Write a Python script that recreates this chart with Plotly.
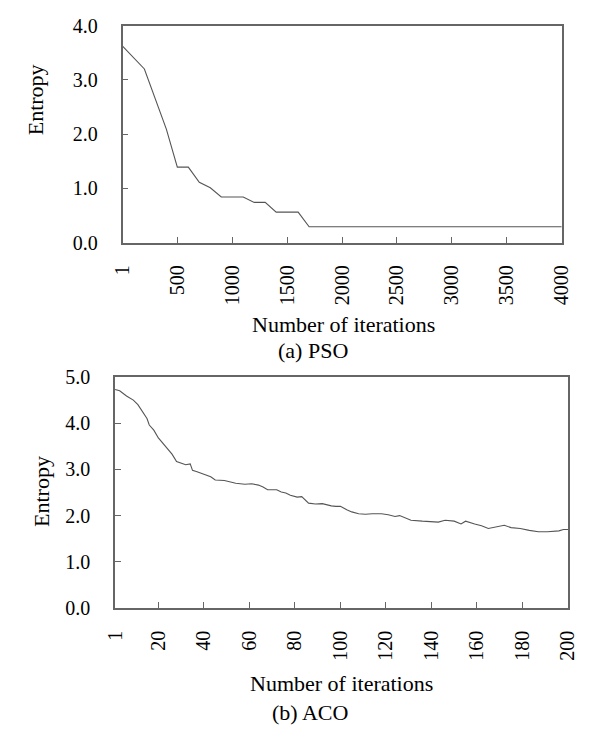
import plotly.graph_objects as go

# ---- data ----
pso_iter = [1, 200, 400, 500, 600, 700, 800, 900, 1100, 1200, 1300, 1400, 1600, 1700, 4000]
pso_entropy = [3.62, 3.20, 2.09, 1.39, 1.39, 1.11, 1.01, 0.84, 0.84, 0.74, 0.74, 0.56, 0.56, 0.29, 0.29]

aco_iter = [1, 3, 6, 9, 11, 13, 15, 16, 18, 20, 22, 24, 26, 28, 30, 32, 34, 35, 37, 40,
            43, 45, 49, 54, 58, 61, 64, 66, 68, 72, 74, 76, 78, 81, 83, 86, 89, 92, 94, 96,
            98, 100, 103, 105, 108, 111, 114, 118, 121, 124, 126, 131, 136, 139, 143, 146,
            150, 153, 155, 159, 162, 165, 168, 172, 175, 179, 183, 187, 191, 196, 198, 200]
aco_entropy = [4.73, 4.70, 4.59, 4.50, 4.40, 4.26, 4.10, 3.96, 3.85, 3.68, 3.56, 3.44, 3.33, 3.17,
               3.14, 3.10, 3.12, 2.98, 2.95, 2.89, 2.84, 2.77, 2.76, 2.70, 2.68, 2.69, 2.66, 2.62,
               2.56, 2.56, 2.51, 2.49, 2.44, 2.40, 2.41, 2.27, 2.25, 2.26, 2.23, 2.21, 2.20, 2.20,
               2.12, 2.08, 2.04, 2.03, 2.04, 2.04, 2.02, 1.98, 2.00, 1.90, 1.88, 1.87, 1.86, 1.90,
               1.88, 1.82, 1.88, 1.82, 1.78, 1.72, 1.75, 1.79, 1.74, 1.72, 1.68, 1.65, 1.65, 1.67,
               1.70, 1.70]

pso_xticks = [1, 500, 1000, 1500, 2000, 2500, 3000, 3500, 4000]
aco_xticks = [1, 20, 40, 60, 80, 100, 120, 140, 160, 180, 200]
pso_yticks = [0.0, 1.0, 2.0, 3.0, 4.0]
aco_yticks = [0.0, 1.0, 2.0, 3.0, 4.0, 5.0]

x_title = "Number of iterations"
y_title = "Entropy"
cap_a = "(a) PSO"
cap_b = "(b) ACO"

W, H = 591, 733
FONT = "Liberation Serif"
FS_TICK = 20
FS_TITLE = 22
AXC = "#666666"
LINEC = "#555555"

fig = go.Figure()
fig.add_trace(go.Scatter(x=pso_iter, y=pso_entropy, mode="lines",
                         line=dict(color=LINEC, width=1.1), xaxis="x", yaxis="y",
                         showlegend=False, hoverinfo="skip"))
fig.add_trace(go.Scatter(x=aco_iter, y=aco_entropy, mode="lines",
                         line=dict(color=LINEC, width=1.1), xaxis="x2", yaxis="y2",
                         showlegend=False, hoverinfo="skip"))

def px_x(p):
    return p / W

def px_y(p):
    return 1 - p / H

common_x = dict(showline=True, linecolor=AXC, linewidth=1.5, mirror=True, ticks="inside",
                ticklen=6, tickcolor=AXC, tickwidth=1, showgrid=False, zeroline=False,
                tickangle=-90, tickfont=dict(family=FONT, size=FS_TICK, color="black"),
                ticklabelstandoff=13)
common_y = dict(showline=True, linecolor=AXC, linewidth=1.5, mirror=True, ticks="inside",
                ticklen=6, tickcolor=AXC, tickwidth=1, showgrid=False, zeroline=False,
                tickformat=".1f", tickfont=dict(family=FONT, size=FS_TICK, color="black"),
                ticklabelstandoff=19)

fig.update_layout(
    width=W, height=H,
    margin=dict(l=0, r=0, t=0, b=0),
    paper_bgcolor="white", plot_bgcolor="white",
    font=dict(family=FONT),
    xaxis=dict(common_x, domain=[px_x(115), px_x(572)], range=[1, 4000],
               tickvals=pso_xticks, anchor="y"),
    yaxis=dict(common_y, domain=[px_y(238.7), px_y(15)], range=[0, 4],
               tickvals=pso_yticks, anchor="x"),
    xaxis2=dict(common_x, domain=[px_x(107.3), px_x(578.5)], range=[1, 200],
                tickvals=aco_xticks, anchor="y2"),
    yaxis2=dict(common_y, domain=[px_y(615.5), px_y(377.3)], range=[0, 5],
                tickvals=aco_yticks, anchor="x2"),
)

def ann(text, x, y, angle=0):
    fig.add_annotation(text=text, x=px_x(x), y=px_y(y), xref="paper", yref="paper",
                       showarrow=False, textangle=angle, xanchor="center", yanchor="middle",
                       font=dict(family=FONT, size=FS_TITLE, color="black"))

ann(x_title, 345, 323)
ann(cap_a, 313, 350)
ann(y_title, 24, 92, -90)
ann(x_title, 343, 693)
ann(cap_b, 310, 723)
ann(y_title, 30, 495, -90)

fig.write_html("out.html")
